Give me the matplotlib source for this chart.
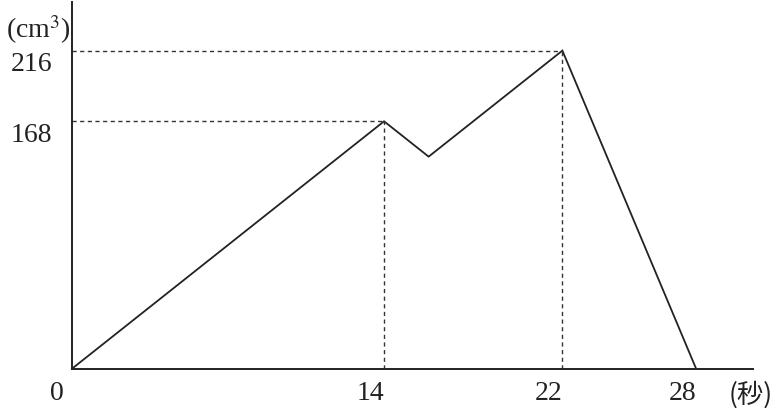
import matplotlib
matplotlib.use("Agg")
import matplotlib.pyplot as plt

t = [0, 14, 16, 22, 28]
vol = [0, 168, 144, 216, 0]
xticks = [0, 14, 22, 28]
yticks = [168, 216]

W, H = 779, 408
fig = plt.figure(figsize=(W/100, H/100), dpi=100)
x0, x1 = 72, 753
y0, y1 = 368.7, 2
ax = fig.add_axes([x0/W, (H-y0)/H, (x1-x0)/W, (y0-y1)/H])
xmax = (x1-x0)/22.29
ymax = (y0-y1)/1.4726
ax.set_xlim(0, xmax)
ax.set_ylim(0, ymax)
for s in ["top", "right"]:
    ax.spines[s].set_visible(False)
for s in ["left", "bottom"]:
    ax.spines[s].set_linewidth(1.4)
    ax.spines[s].set_color("#222222")
ax.set_xticks([])
ax.set_yticks([])

ax.plot(t, vol, color="#222222", lw=1.3, solid_joinstyle="miter", clip_on=False)

# dotted guides
for xi, yi in [(t[1], vol[1]), (t[3], vol[3])]:
    ax.plot([0, xi], [yi, yi], color="#333333", lw=1.0, ls=(0, (3, 2.5)))
    ax.plot([xi, xi], [0, yi], color="#333333", lw=1.0, ls=(0, (3, 2.5)))

serif = ["Liberation Serif", "DejaVu Serif"]
fs = 20
for xv in xticks:
    xpos = -0.35 if xv == 0 else xv
    ax.text(xpos, -8.5, str(xv), ha="right", va="top", fontsize=fs,
            family=serif, color="#222222")
for yv in yticks:
    ax.text(-0.9, yv - 1.0, str(yv), ha="right", va="top", fontsize=fs,
            family=serif, color="#222222")

ax.text(-0.08, ymax - 8, "(cm$^3$)", ha="right", va="top", fontsize=fs,
        family=serif, color="#222222", math_fontfamily="stix")
ax.text(xmax - 1.1, -8.5, "(秒)", ha="left", va="top", fontsize=fs - 1,
        family=["Noto Sans CJK JP", "DejaVu Sans"], color="#222222")

fig.savefig("out.png", dpi=100)
